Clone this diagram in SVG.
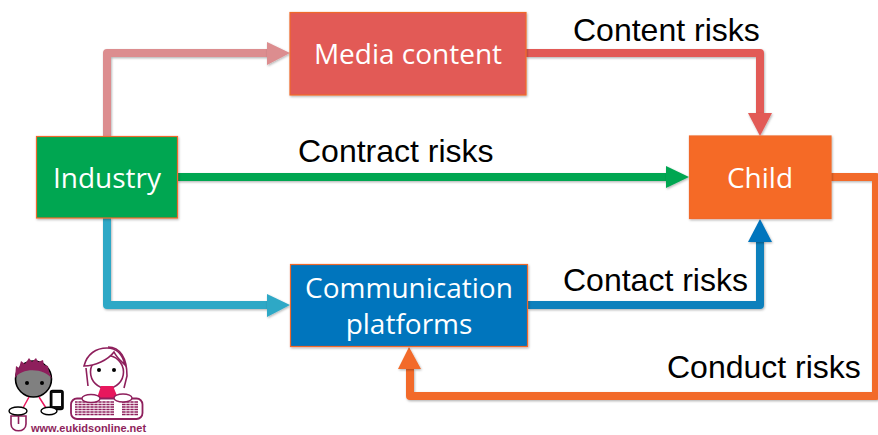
<svg xmlns="http://www.w3.org/2000/svg" width="878" height="435" viewBox="0 0 878 435">
<style>
.box{stroke:#f0692a;stroke-width:1.2;filter:url(#sh)}
.w{font-family:"Open Sans","Noto Sans",sans-serif;font-size:28px;fill:#fff;text-anchor:middle}
.k{font-family:"Liberation Sans",Arial,sans-serif;font-size:32px;fill:#000}
.c{fill:none;stroke-width:8;stroke-linejoin:round;filter:url(#sh)}
.h{filter:url(#sh)}
.m{fill:none;stroke:#8e1f5c;stroke-width:1.6}
</style>
<defs>
<filter id="sh" filterUnits="userSpaceOnUse" x="0" y="0" width="878" height="435"><feDropShadow dx="0.8" dy="1.2" stdDeviation="1" flood-color="#000" flood-opacity="0.3"/></filter>
</defs>
<g id="connectors">
<path class="c" stroke="#dc8d8f" d="M107 136V53H268"/>
<polygon class="h" fill="#dc8d8f" points="267,42 290,53 267,65"/>
<path class="c" stroke="#e25a56" d="M526 53H760V113"/>
<polygon class="h" fill="#e25a56" points="748,113 772,113 760,136"/>
<path class="c" stroke="#00a651" d="M177 177H667"/>
<polygon class="h" fill="#00a651" points="666,166 689,177 666,188"/>
<path class="c" stroke="#2fa8c6" d="M107 218V305H268"/>
<polygon class="h" fill="#2fa8c6" points="267,294 290,305 267,317"/>
<path class="c" stroke="#0f80bc" d="M528 305H760V241"/>
<polygon class="h" fill="#0274bd" points="748,242 772,242 760,219"/>
<path class="c" stroke="#f26b29" d="M831 177H876V396H410V369"/>
<polygon class="h" fill="#f26b29" points="398,369 421,369 409,347"/>
</g>
<g id="node-industry"><rect class="box" x="36.500" y="136.500" width="141" height="81.500" fill="#00a651"/><text class="w" x="107" y="188">Industry</text></g>
<g id="node-media"><rect class="box" x="290" y="12.500" width="236" height="82.500" fill="#e25a56"/><text class="w" x="408" y="64">Media content</text></g>
<g id="node-comm"><rect class="box" x="290.500" y="264.500" width="237" height="82" fill="#0274bd"/><text class="w" x="409" y="298">Communication</text><text class="w" x="409" y="334">platforms</text></g>
<g id="node-child"><rect class="box" x="689.500" y="136" width="141.500" height="82.500" fill="#f56a28" stroke="#f56a28"/><text class="w" x="760" y="188">Child</text></g>
<g id="labels">
<text class="k" x="573" y="41">Content risks</text>
<text class="k" x="298" y="162">Contract risks</text>
<text class="k" x="563" y="291">Contact risks</text>
<text class="k" x="667" y="378">Conduct risks</text>
</g>
<g id="logo">
<circle cx="33.500" cy="379" r="18" fill="#808080" stroke="#000" stroke-width="1.600"/>
<path d="M15 378L16 366 19 368 21 361 25 364 29 358 32 362 36 358 38 362 43 360 44 365 48 366 49 372 52 379C45 368 22 367 15 378Z" fill="#8e1f5c"/>
<circle cx="27" cy="383" r="2" fill="#000"/><circle cx="42" cy="383" r="2" fill="#000"/>
<path d="M29 397L23 408M39 397L46 408" stroke="#e8175d" stroke-width="1.500" fill="none"/>
<path class="m" d="M11 416H26V424C26 433 11 433 11 424ZM18.500 416V424"/>
<ellipse cx="18" cy="411" rx="9" ry="4" fill="#fff" stroke="#000" stroke-width="1.400"/>
<rect x="50.500" y="390.500" width="12.500" height="19" rx="2" fill="#111" stroke="#000" stroke-width="1.600"/>
<rect x="52.500" y="393" width="8.500" height="13" fill="#fff"/>
<ellipse cx="49" cy="411" rx="8" ry="3.800" fill="#fff" stroke="#000" stroke-width="1.400"/>
<path class="m" d="M88 386L86 368M124 388L127 376C127 358 120 347 108 347"/>
<circle cx="107" cy="372" r="16.500" fill="#fff" stroke="#8e1f5c" stroke-width="1.600"/>
<path d="M84 366C95 366 108 360 114 352C117 358 121 361 125 365C122 352 115 348 107 348 96 348 87 354 84 366Z" fill="#fff" stroke="#8e1f5c" stroke-width="1.600"/>
<circle cx="99" cy="370" r="2" fill="#000"/><circle cx="114" cy="370" r="2" fill="#000"/>
<path d="M101 386H113L118 398H97Z" fill="#e8175d"/>
<rect x="71" y="398.500" width="71.500" height="20.500" rx="6" fill="#fff" stroke="#8e1f5c" stroke-width="1.800"/>
<g stroke="#8e1f5c" stroke-width="1.500"><path d="M75 402H114M75 404.500H114M75 407H114M75 409.500H114M75 412H114M75 414.500H114"/><path d="M122 402H138M122 404.500H138M122 407H138M122 409.500H138M122 412H138M122 414.500H138"/></g>
<g stroke="#fff" stroke-width="0.700"><path d="M78 401V416M82 401V416M86 401V416M90 401V416M94 401V416M98 401V416M102 401V416M106 401V416M110 401V416M126 401V416M130 401V416M134 401V416"/></g>
<ellipse cx="91" cy="398.500" rx="9" ry="4" fill="#fff" stroke="#8e1f5c" stroke-width="1.400"/>
<ellipse cx="123" cy="398" rx="9" ry="4" fill="#fff" stroke="#8e1f5c" stroke-width="1.400"/>
<text x="31" y="432" font-family="Liberation Sans,Arial,sans-serif" font-size="11" font-weight="700" fill="#8e1f5c">www.eukidsonline.net</text>
</g>
</svg>
